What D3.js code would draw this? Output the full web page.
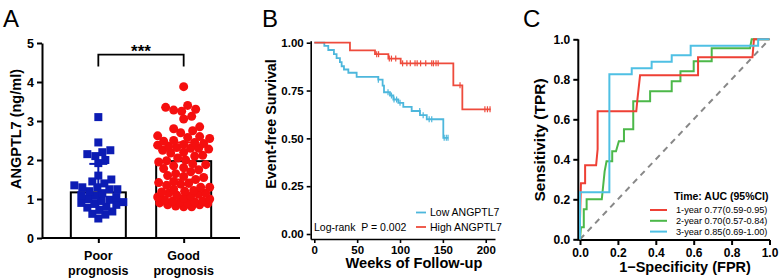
<!DOCTYPE html>
<html>
<head>
<meta charset="utf-8">
<script src="https://cdn.jsdelivr.net/npm/d3@7/dist/d3.min.js"></script>
<style>
  body { margin: 0; background: #fff; }
  svg { font-family: "Liberation Sans", Arial, sans-serif; display: block; }
</style>
</head>
<body>
<div id="chart"></div>
<script>
// ---- Painel A: dados ----
const groups = ["Poor prognosis", "Good prognosis"];
const groupLabels = [["Poor", "prognosis"], ["Good", "prognosis"]];
const groupMean = [1.17, 1.97];
const groupErrLow = [0.8, 1.5];
const groupErrHigh = [1.9, 2.45];
const poorValues = [3.1, 2.45, 2.25, 2.2, 2.15, 2.1, 2.0, 1.92, 1.6, 1.5, 1.45, 1.4,
  1.35, 1.3, 1.3, 1.25, 1.25, 1.2, 1.15, 1.1, 1.08, 1.05, 1.0, 0.98, 0.95, 0.92,
  0.9, 0.88, 0.85, 0.8, 0.78, 0.72, 0.68, 0.62, 0.6, 0.5];
const goodValues = [3.88, 3.4, 3.35, 3.3, 3.28, 3.25, 3.12, 3.05, 2.85, 2.8, 2.75, 2.7,
  2.62, 2.58, 2.55, 2.5, 2.48, 2.45, 2.42, 2.4, 2.38, 2.35, 2.32, 2.3, 2.28, 2.25,
  2.2, 2.18, 2.12, 2.1, 2.05, 2.0, 1.98, 1.95, 1.9, 1.88, 1.85, 1.8, 1.78, 1.75,
  1.7, 1.65, 1.6, 1.58, 1.55, 1.5, 1.45, 1.42, 1.4, 1.38, 1.35, 1.3, 1.25, 1.22,
  1.2, 1.18, 1.15, 1.12, 1.1, 1.08, 1.05, 1.02, 1.0, 0.98, 0.95, 0.95, 0.93, 0.92,
  0.9, 0.9, 0.88, 0.85, 0.85, 0.82, 0.8, 0.8, 1.15, 1.3, 2.6, 2.3];
const yTicksA = [0, 1, 2, 3, 4, 5];

// ---- Painel B: Kaplan-Meier ----
const lowTimes = [0, 11.7, 16.3, 22.9, 26, 29.9, 31.9, 34.6, 39.7, 49.4, 74.7, 79.7,
  81.3, 88.3, 92.2, 98, 103.8, 113.6, 123.3, 131.2, 150.5];
const lowSurv = [1, 0.983, 0.962, 0.94, 0.919, 0.898, 0.877, 0.86, 0.843, 0.821, 0.807,
  0.776, 0.741, 0.724, 0.703, 0.686, 0.665, 0.643, 0.621, 0.6, 0.503];
const lowEnd = 156.4;
const lowCensor = [74.7, 86, 90, 93, 96, 100, 123, 127, 134, 137, 151.5, 154, 156];
const highTimes = [0, 41.6, 70.8, 86.4, 100.8, 162.2, 172.7];
const highSurv = [1, 0.96, 0.94, 0.917, 0.892, 0.777, 0.652];
const highEnd = 205.8;
const highCensor = [72.8, 75, 87.5, 90, 95, 103, 108, 112, 117.5, 120, 124, 130, 137,
  139, 142, 144.5, 170, 199, 202, 205];
const xTicksB = [0, 50, 100, 150, 200];
const yTicksB = [0, 0.25, 0.5, 0.75, 1];
const kmNames = ["Low ANGPTL7", "High ANGPTL7"];
const logRankText = "Log-rank  P = 0.002";

// ---- Painel C: curvas ROC ----
const roc1Fpr = [0, 0, 0.005, 0.027, 0.027, 0.085, 0.093, 0.093, 0.297, 0.303, 0.317,
  0.623, 0.623, 0.91, 0.918, 1];
const roc1Tpr = [0, 0.1, 0.28, 0.28, 0.37, 0.37, 0.45, 0.64, 0.64, 0.7, 0.82, 0.82,
  0.91, 0.91, 1, 1];
const roc2Fpr = [0, 0.005, 0.02, 0.02, 0.035, 0.035, 0.115, 0.13, 0.14, 0.17, 0.17,
  0.19, 0.205, 0.232, 0.232, 0.281, 0.281, 0.37, 0.37, 0.484, 0.484, 0.53, 0.53,
  0.6, 0.6, 0.695, 0.695, 0.897, 0.906, 1];
const roc2Tpr = [0, 0.06, 0.06, 0.15, 0.15, 0.2, 0.2, 0.34, 0.39, 0.39, 0.44, 0.44,
  0.49, 0.49, 0.55, 0.55, 0.69, 0.69, 0.74, 0.74, 0.79, 0.79, 0.84, 0.84, 0.89,
  0.89, 0.955, 0.955, 1, 1];
const roc3Fpr = [0, 0, 0.155, 0.155, 0.273, 0.273, 0.378, 0.378, 0.484, 0.484, 0.584,
  0.584, 0.94, 0.94, 1];
const roc3Tpr = [0, 0.235, 0.235, 0.825, 0.825, 0.855, 0.855, 0.888, 0.888, 0.92,
  0.92, 0.968, 0.968, 1, 1];
const rocNames = ["1-year 0.77(0.59-0.95)", "2-year 0.70(0.57-0.84)", "3-year 0.85(0.69-1.00)"];
const rocTicks = [0, 0.2, 0.4, 0.6, 0.8, 1.0];

// ---- Cores ----
const poorColor = "#0c1cb4";
const goodColor = "#f50f0f";
const lowColor = "#4db7dc";
const highColor = "#ee4b3c";
const rocColors = ["#ee4035", "#4cb849", "#4fc0e4"];

const W = 779, H = 280;
const svg = d3.select("#chart").append("svg").attr("width", W).attr("height", H);

function styleAxis(g, fs, sw) {
  g.selectAll("path,line").attr("stroke", "#000").attr("stroke-width", sw);
  g.selectAll("text").attr("font-size", fs).attr("font-weight", "bold")
    .attr("fill", "#000").attr("font-family", "Liberation Sans, Arial, sans-serif");
}

// Layout determinístico tipo beeswarm (sem aleatoriedade)
function swarm(values, yScale, minDist, maxOff) {
  const items = values.map((v) => ({ v, y: yScale(v), dx: 0 }))
    .sort((a, b) => a.v - b.v);
  const placed = [];
  items.forEach((d) => {
    let best = 0, bestScore = -1;
    for (let k = 0; k <= 2 * maxOff; k++) {
      const off = (k % 2 ? 1 : -1) * Math.ceil(k / 2);
      let md = Infinity;
      placed.forEach((p) => {
        const dd = Math.hypot(p.dx - off, p.y - d.y);
        if (dd < md) md = dd;
      });
      if (md >= minDist) { best = off; bestScore = Infinity; break; }
      if (md > bestScore) { bestScore = md; best = off; }
    }
    d.dx = best;
    placed.push(d);
  });
  return items;
}

// =================== Painel A ===================
(function panelA() {
  const yA = d3.scaleLinear().domain([0, 5]).range([238, 43]);
  const xA = d3.scalePoint().domain(groups).range([42, 240]).padding(0.66);
  const barW = 55;
  const g = svg.append("g");

  g.append("text").attr("x", 3).attr("y", 27).attr("font-size", 24).text("A");

  // barras
  g.selectAll("rect.bar").data(groups).enter().append("rect")
    .attr("x", (d) => xA(d) - barW / 2)
    .attr("y", (d, i) => yA(groupMean[i]))
    .attr("width", barW)
    .attr("height", (d, i) => yA(0) - yA(groupMean[i]))
    .attr("fill", "#fff").attr("stroke", "#000").attr("stroke-width", 2);

  // barras de erro
  groups.forEach((gr, i) => {
    const cx = xA(gr);
    const col = i === 0 ? poorColor : goodColor;
    g.append("line").attr("x1", cx).attr("x2", cx)
      .attr("y1", yA(groupErrLow[i])).attr("y2", yA(groupErrHigh[i]))
      .attr("stroke", col).attr("stroke-width", 2);
    [groupErrLow[i], groupErrHigh[i]].forEach((v) => {
      g.append("line").attr("x1", cx - 9).attr("x2", cx + 9)
        .attr("y1", yA(v)).attr("y2", yA(v))
        .attr("stroke", col).attr("stroke-width", 2);
    });
  });

  // pontos
  const poorPts = swarm(poorValues, yA, 7.5, 26);
  g.selectAll("rect.pt").data(poorPts).enter().append("rect")
    .attr("x", (d) => xA(groups[0]) + d.dx - 4)
    .attr("y", (d) => d.y - 4)
    .attr("width", 8).attr("height", 8)
    .attr("fill", poorColor);

  const goodPts = swarm(goodValues, yA, 8, 26);
  g.selectAll("circle.pt").data(goodPts).enter().append("circle")
    .attr("cx", (d) => xA(groups[1]) + d.dx)
    .attr("cy", (d) => d.y)
    .attr("r", 4.5)
    .attr("fill", goodColor);

  // eixos
  const ay = g.append("g").attr("transform", "translate(42,0)")
    .call(d3.axisLeft(yA).tickValues(yTicksA).tickFormat(d3.format("d"))
      .tickSize(5).tickSizeOuter(0).tickPadding(3));
  styleAxis(ay, 12.5, 2);
  const ax = g.append("g").attr("transform", "translate(0,238)")
    .call(d3.axisBottom(xA).tickSize(5).tickSizeOuter(0).tickFormat(""));
  styleAxis(ax, 12.5, 2);
  ax.select(".domain").attr("d", "M42,0H240");

  groups.forEach((gr, i) => {
    const t = g.append("text").attr("x", xA(gr)).attr("y", 260)
      .attr("text-anchor", "middle").attr("font-size", 12.5).attr("font-weight", "bold");
    groupLabels[i].forEach((line, j) => {
      t.append("tspan").attr("x", xA(gr)).attr("dy", j === 0 ? 0 : 15).text(line);
    });
  });

  g.append("text").attr("transform", "translate(20.5,129) rotate(-90)")
    .attr("text-anchor", "middle").attr("font-size", 14.5).attr("font-weight", "bold")
    .text("ANGPTL7 (ng/ml)");

  // colchete de significância
  const x1 = xA(groups[0]), x2 = xA(groups[1]);
  g.append("path")
    .attr("d", `M${x1},${yA(4.4)}V${yA(4.7)}H${x2}V${yA(4.4)}`)
    .attr("fill", "none").attr("stroke", "#000").attr("stroke-width", 1.8);
  g.append("text").attr("x", (x1 + x2) / 2).attr("y", yA(4.72) + 3)
    .attr("text-anchor", "middle").attr("font-size", 17).attr("font-weight", "bold")
    .text("***");
})();

// =================== Painel B ===================
(function panelB() {
  const xB = d3.scaleLinear().domain([-4.2, 210.8]).range([310.7, 495]);
  const yB = d3.scaleLinear().domain([-0.0261, 1.0105]).range([239, 40.7]);
  const g = svg.append("g");

  g.append("text").attr("x", 262).attr("y", 27).attr("font-size", 24).text("B");

  const ay = g.append("g").attr("transform", "translate(310.7,0)")
    .call(d3.axisLeft(yB).tickValues(yTicksB).tickFormat(d3.format(".2f"))
      .tickSize(4).tickSizeOuter(0).tickPadding(3));
  styleAxis(ay, 11.5, 1.6);
  const ax = g.append("g").attr("transform", "translate(0,239)")
    .call(d3.axisBottom(xB).tickValues(xTicksB).tickSize(4).tickSizeOuter(0).tickPadding(3));
  styleAxis(ax, 11.5, 1.6);

  const kmLine = d3.line().curve(d3.curveStepAfter)
    .x((d) => xB(d[0])).y((d) => yB(d[1]));

  function survAt(times, surv, t) {
    let s = surv[0];
    times.forEach((tt, i) => { if (tt <= t) s = surv[i]; });
    return s;
  }

  const series = [
    { times: lowTimes, surv: lowSurv, end: lowEnd, cens: lowCensor, color: lowColor },
    { times: highTimes, surv: highSurv, end: highEnd, cens: highCensor, color: highColor },
  ];
  series.forEach((s) => {
    const pts = s.times.map((t, i) => [t, s.surv[i]]);
    pts.push([s.end, s.surv[s.surv.length - 1]]);
    g.append("path").attr("d", kmLine(pts)).attr("fill", "none")
      .attr("stroke", s.color).attr("stroke-width", 1.8);
    s.cens.forEach((t) => {
      const y = yB(survAt(s.times, s.surv, t));
      g.append("line").attr("x1", xB(t)).attr("x2", xB(t))
        .attr("y1", y - 3).attr("y2", y + 3)
        .attr("stroke", s.color).attr("stroke-width", 1.2);
    });
  });

  g.append("text").attr("transform", "translate(276,124) rotate(-90)")
    .attr("text-anchor", "middle").attr("font-size", 14.3).attr("font-weight", "bold")
    .text("Event-free Survival");
  g.append("text").attr("x", 414).attr("y", 268).attr("text-anchor", "middle")
    .attr("font-size", 14.6).attr("font-weight", "bold").text("Weeks of Follow-up");

  // legenda
  kmNames.forEach((name, i) => {
    const y = 212.5 + i * 14.5;
    g.append("line").attr("x1", 416).attr("x2", 426).attr("y1", y).attr("y2", y)
      .attr("stroke", series[i].color).attr("stroke-width", 1.8);
    g.append("text").attr("x", 430).attr("y", y + 3.7).attr("font-size", 10.5).text(name);
  });
  g.append("text").attr("x", 314).attr("y", 231).attr("font-size", 10.5)
    .attr("xml:space", "preserve").style("white-space", "pre").text(logRankText);
})();

// =================== Painel C ===================
(function panelC() {
  const xC = d3.scaleLinear().domain([0, 1]).range([580, 769.5]);
  const yC = d3.scaleLinear().domain([0, 1]).range([239.3, 39.3]);
  const g = svg.append("g");

  g.append("text").attr("x", 523).attr("y", 27).attr("font-size", 24).text("C");

  const ay = g.append("g").attr("transform", "translate(578.3,0)")
    .call(d3.axisLeft(yC).tickValues(rocTicks).tickFormat(d3.format(".1f"))
      .tickSize(5).tickSizeOuter(0).tickPadding(3));
  styleAxis(ay, 12, 2);
  ay.select(".domain").attr("d", `M0,${yC(1)}V240.5`);
  const ax = g.append("g").attr("transform", "translate(0,240)")
    .call(d3.axisBottom(xC).tickValues(rocTicks).tickFormat(d3.format(".1f"))
      .tickSize(5).tickSizeOuter(0).tickPadding(3));
  styleAxis(ax, 12, 2);
  ax.select(".domain").attr("d", "M578.3,0H770");

  // diagonal
  g.append("line").attr("x1", xC(0)).attr("y1", yC(0)).attr("x2", xC(1)).attr("y2", yC(1))
    .attr("stroke", "#888").attr("stroke-width", 2).attr("stroke-dasharray", "6,5");

  const rocLine = d3.line().x((d) => xC(d[0])).y((d) => yC(d[1]));
  const rocs = [[roc1Fpr, roc1Tpr], [roc2Fpr, roc2Tpr], [roc3Fpr, roc3Tpr]];
  // desenha na ordem verde, vermelho, azul
  [1, 0, 2].forEach((i) => {
    const pts = rocs[i][0].map((f, k) => [f, rocs[i][1][k]]);
    g.append("path").attr("d", rocLine(pts)).attr("fill", "none")
      .attr("stroke", rocColors[i]).attr("stroke-width", 2);
  });

  g.append("text").attr("transform", "translate(545,140) rotate(-90)")
    .attr("text-anchor", "middle").attr("font-size", 15.5).attr("font-weight", "bold")
    .text("Sensitivity (TPR)");
  g.append("text").attr("x", 685).attr("y", 271.5).attr("text-anchor", "middle")
    .attr("font-size", 14.5).attr("font-weight", "bold").text("1\u2212Specificity (FPR)");

  // legenda
  g.append("text").attr("x", 674).attr("y", 200).attr("font-size", 10.5)
    .attr("font-weight", "bold").text("Time: AUC (95%CI)");
  rocNames.forEach((name, i) => {
    const y = 210 + i * 10.8;
    g.append("line").attr("x1", 650).attr("x2", 667).attr("y1", y).attr("y2", y)
      .attr("stroke", rocColors[i]).attr("stroke-width", 2);
    g.append("text").attr("x", 676).attr("y", y + 3.3).attr("font-size", 9.2).text(name);
  });
})();
</script>
</body>
</html>
